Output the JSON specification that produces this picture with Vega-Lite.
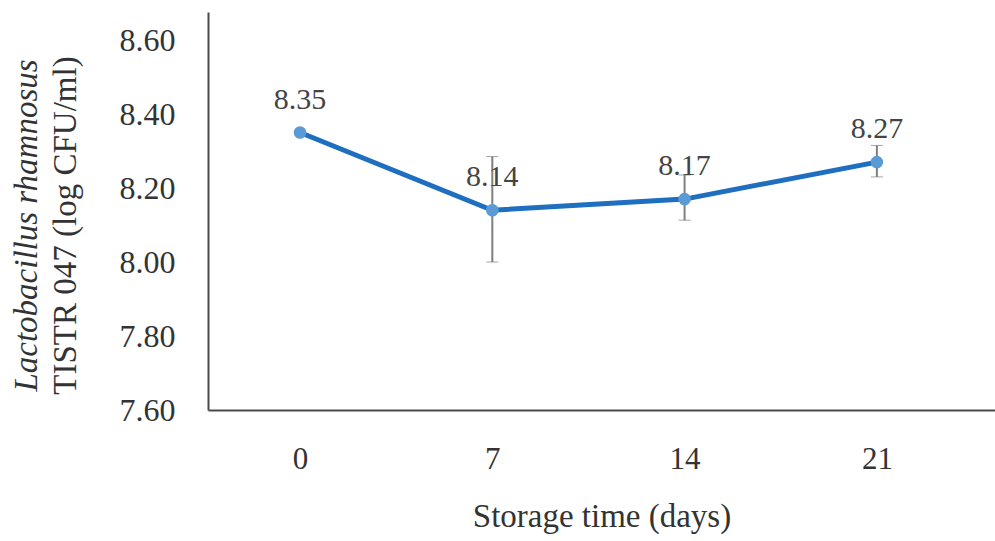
{
  "$schema": "https://vega.github.io/schema/vega-lite/v6.json",
  "autosize": {"type": "none"},
  "width": 787,
  "height": 398,
  "padding": {"left": 208, "top": 12, "right": 0, "bottom": 131},
  "background": "white",
  "config": {
    "view": {"stroke": null},
    "font": "Liberation Serif",
    "axis": {"grid": false, "ticks": false, "domainColor": "#4a4a4a", "domainWidth": 2, "labelColor": "#333333", "titleColor": "#333333", "labelFont": "Liberation Serif", "titleFont": "Liberation Serif", "titleFontWeight": "normal"}
  },
  "data": {
    "values": [
      {"day": 0, "mean": 8.35, "lo": null, "hi": null, "label": "8.35"},
      {"day": 7, "mean": 8.14, "lo": 8.0, "hi": 8.285, "label": "8.14"},
      {"day": 14, "mean": 8.17, "lo": 8.113, "hi": 8.235, "label": "8.17"},
      {"day": 21, "mean": 8.27, "lo": 8.23, "hi": 8.315, "label": "8.27"}
    ]
  },
  "resolve": {"scale": {"y": "independent"}},
  "layer": [
    {
      "encoding": {
        "x": {"field": "day", "type": "quantitative", "scale": {"domain": [-3.35, 25.3], "nice": false, "zero": false},
          "axis": {"values": [0, 7, 14, 21], "labelFontSize": 31, "labelPadding": 34, "title": "Storage time  (days)", "titleFontSize": 33, "titlePadding": 26, "labelFlush": false}},
        "y": {"field": "mean", "type": "quantitative", "scale": {"domain": [7.6, 8.6757], "nice": false, "zero": false},
          "axis": {"values": [7.6, 7.8, 8.0, 8.2, 8.4, 8.6], "format": ".2f", "labelFontSize": 32, "labelPadding": 33,
            "title": "TISTR 047 (log CFU/ml)", "titleFontSize": 33, "titleX": -143, "titleY": 213, "titleAngle": -90, "titleAlign": "center", "titleBaseline": "middle"}}
      },
      "layer": [
        {
          "transform": [{"filter": "datum.hi != null"}],
          "mark": {"type": "errorbar", "ticks": {"size": 12, "color": "#7f7f7f", "strokeWidth": 2}, "rule": {"color": "#7f7f7f", "strokeWidth": 2}},
          "encoding": {"y": {"field": "lo", "type": "quantitative"}, "y2": {"field": "hi"}}
        },
        {
          "mark": {"type": "line", "color": "#1f6fc0", "strokeWidth": 5}
        },
        {
          "mark": {"type": "point", "filled": true, "color": "#5b9bd5", "size": 160, "opacity": 1}
        },
        {
          "mark": {"type": "text", "fontSize": 30, "dy": -33, "color": "#444444", "font": "Liberation Serif"},
          "encoding": {"text": {"field": "label"}}
        }
      ]
    },
    {
      "mark": {"type": "point", "opacity": 0},
      "encoding": {
        "x": {"field": "day", "type": "quantitative"},
        "y": {"field": "mean", "type": "quantitative", "scale": {"domain": [7.6, 8.6757], "nice": false, "zero": false},
          "axis": {"orient": "left", "labels": false, "domain": false, "ticks": false, "title": "Lactobacillus rhamnosus", "titleFontStyle": "italic", "titleFontSize": 33, "titleX": -182, "titleY": 213, "titleAngle": -90, "titleAlign": "center", "titleBaseline": "middle"}}
      }
    }
  ]
}
